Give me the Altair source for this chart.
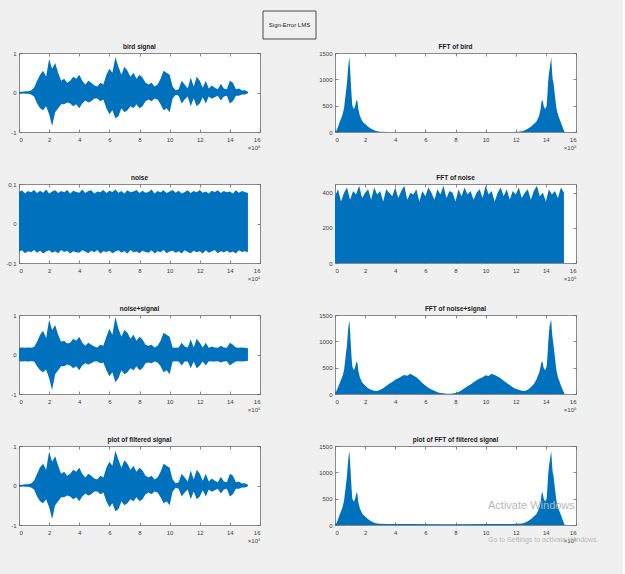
import altair as alt
import pandas as pd

BLUE = "#0072BD"
FONT = "Liberation Sans"

# ---------------- data (x in units of 10^5 samples) ----------------
sig_x = [round(0.2 * i, 1) for i in range(77)]

bird_hi = [0.02, 0.02, 0.03, 0.03, 0.05, 0.12, 0.30, 0.45, 0.55, 0.40,
           0.85, 0.60, 0.75, 0.50, 0.30, 0.35, 0.25, 0.30, 0.40, 0.35,
           0.45, 0.30, 0.20, 0.30, 0.25, 0.18, 0.15, 0.25, 0.20, 0.45,
           0.60, 0.50, 0.90, 0.65, 0.45, 0.65, 0.55, 0.40, 0.50, 0.35,
           0.45, 0.38, 0.25, 0.20, 0.25, 0.15, 0.20, 0.35, 0.55, 0.50,
           0.45, 0.15, 0.06, 0.08, 0.30, 0.20, 0.10, 0.38, 0.15, 0.40,
           0.30, 0.12, 0.30, 0.10, 0.18, 0.12, 0.08, 0.22, 0.10, 0.08,
           0.30, 0.25, 0.08, 0.10, 0.05, 0.06, 0.02]
bird_lo = [-0.02, -0.02, -0.03, -0.03, -0.05, -0.10, -0.28, -0.40, -0.45, -0.35,
           -0.55, -0.85, -0.50, -0.40, -0.30, -0.30, -0.25, -0.28, -0.35, -0.30,
           -0.40, -0.28, -0.20, -0.25, -0.22, -0.15, -0.15, -0.22, -0.18, -0.40,
           -0.55, -0.45, -0.65, -0.60, -0.40, -0.50, -0.45, -0.35, -0.40, -0.30,
           -0.40, -0.35, -0.22, -0.18, -0.22, -0.15, -0.18, -0.30, -0.45, -0.40,
           -0.50, -0.15, -0.06, -0.08, -0.28, -0.18, -0.10, -0.35, -0.15, -0.35,
           -0.28, -0.12, -0.28, -0.10, -0.16, -0.12, -0.08, -0.20, -0.10, -0.08,
           -0.28, -0.22, -0.08, -0.08, -0.05, -0.05, -0.02]

noise_hi = [0.080, 0.084, 0.076, 0.082, 0.079, 0.085, 0.077, 0.083, 0.078, 0.086,
            0.076, 0.081, 0.084, 0.077, 0.082, 0.079, 0.085, 0.076, 0.083, 0.080,
            0.078, 0.086, 0.077, 0.082, 0.084, 0.076, 0.081, 0.079, 0.085, 0.077,
            0.083, 0.080, 0.086, 0.078, 0.082, 0.076, 0.084, 0.079, 0.081, 0.085,
            0.077, 0.083, 0.078, 0.080, 0.086, 0.076, 0.082, 0.079, 0.084, 0.077,
            0.081, 0.085, 0.078, 0.083, 0.076, 0.080, 0.084, 0.077, 0.082, 0.079,
            0.085, 0.078, 0.081, 0.076, 0.083, 0.080, 0.084, 0.077, 0.082, 0.079,
            0.081, 0.076, 0.084, 0.078, 0.082, 0.080, 0.077]
noise_lo = [-0.072, -0.068, -0.075, -0.070, -0.073, -0.067, -0.074, -0.069, -0.076, -0.071,
            -0.068, -0.074, -0.070, -0.075, -0.067, -0.072, -0.069, -0.076, -0.070, -0.073,
            -0.074, -0.068, -0.071, -0.075, -0.069, -0.073, -0.067, -0.076, -0.070, -0.072,
            -0.069, -0.075, -0.071, -0.068, -0.074, -0.070, -0.076, -0.067, -0.073, -0.071,
            -0.075, -0.069, -0.072, -0.074, -0.068, -0.076, -0.070, -0.073, -0.067, -0.075,
            -0.071, -0.069, -0.074, -0.070, -0.076, -0.068, -0.072, -0.075, -0.069, -0.073,
            -0.070, -0.076, -0.068, -0.074, -0.071, -0.067, -0.075, -0.070, -0.073, -0.069,
            -0.074, -0.071, -0.076, -0.068, -0.072, -0.070, -0.073]

mix_hi = [0.17, 0.18, 0.17, 0.18, 0.17, 0.19, 0.32, 0.50, 0.60, 0.42,
          0.88, 0.62, 0.75, 0.50, 0.32, 0.35, 0.28, 0.30, 0.40, 0.35,
          0.45, 0.30, 0.22, 0.30, 0.25, 0.20, 0.18, 0.25, 0.22, 0.45,
          0.65, 0.50, 0.95, 0.65, 0.45, 0.62, 0.55, 0.40, 0.50, 0.35,
          0.45, 0.38, 0.25, 0.22, 0.25, 0.18, 0.22, 0.35, 0.55, 0.50,
          0.45, 0.18, 0.17, 0.18, 0.30, 0.20, 0.18, 0.38, 0.18, 0.40,
          0.30, 0.18, 0.30, 0.17, 0.20, 0.18, 0.17, 0.22, 0.18, 0.17,
          0.30, 0.25, 0.18, 0.17, 0.18, 0.17, 0.16]
mix_lo = [-0.17, -0.18, -0.17, -0.18, -0.17, -0.18, -0.30, -0.40, -0.45, -0.38,
          -0.60, -0.90, -0.50, -0.40, -0.30, -0.30, -0.25, -0.28, -0.35, -0.30,
          -0.40, -0.28, -0.22, -0.25, -0.22, -0.18, -0.18, -0.22, -0.20, -0.40,
          -0.55, -0.45, -0.70, -0.60, -0.40, -0.50, -0.45, -0.35, -0.40, -0.30,
          -0.40, -0.35, -0.22, -0.20, -0.22, -0.18, -0.20, -0.30, -0.45, -0.40,
          -0.50, -0.18, -0.17, -0.18, -0.28, -0.18, -0.18, -0.35, -0.18, -0.35,
          -0.28, -0.18, -0.28, -0.17, -0.18, -0.18, -0.17, -0.20, -0.18, -0.17,
          -0.28, -0.22, -0.18, -0.17, -0.18, -0.17, -0.16]

filt_hi = [0.02, 0.02, 0.03, 0.03, 0.05, 0.12, 0.30, 0.46, 0.55, 0.40,
           0.86, 0.60, 0.74, 0.50, 0.30, 0.35, 0.25, 0.30, 0.40, 0.35,
           0.45, 0.30, 0.20, 0.30, 0.25, 0.18, 0.15, 0.25, 0.20, 0.45,
           0.60, 0.50, 0.88, 0.65, 0.45, 0.64, 0.55, 0.40, 0.50, 0.35,
           0.45, 0.38, 0.25, 0.20, 0.25, 0.15, 0.20, 0.35, 0.55, 0.50,
           0.45, 0.15, 0.06, 0.08, 0.30, 0.20, 0.10, 0.38, 0.15, 0.40,
           0.30, 0.12, 0.30, 0.10, 0.18, 0.12, 0.08, 0.22, 0.10, 0.08,
           0.30, 0.25, 0.08, 0.10, 0.05, 0.06, 0.02]
filt_lo = [-0.02, -0.02, -0.03, -0.03, -0.05, -0.10, -0.28, -0.40, -0.45, -0.35,
           -0.55, -0.85, -0.50, -0.40, -0.30, -0.30, -0.25, -0.28, -0.35, -0.30,
           -0.40, -0.28, -0.20, -0.25, -0.22, -0.15, -0.15, -0.22, -0.18, -0.40,
           -0.55, -0.45, -0.65, -0.60, -0.40, -0.50, -0.45, -0.35, -0.40, -0.30,
           -0.40, -0.35, -0.22, -0.18, -0.22, -0.15, -0.18, -0.30, -0.45, -0.40,
           -0.50, -0.15, -0.06, -0.08, -0.28, -0.18, -0.10, -0.35, -0.15, -0.35,
           -0.28, -0.12, -0.28, -0.10, -0.16, -0.12, -0.08, -0.20, -0.10, -0.08,
           -0.28, -0.22, -0.08, -0.08, -0.05, -0.05, -0.02]

noise_fft = [380, 420, 350, 400, 430, 360, 410, 390, 440, 370,
             400, 420, 360, 430, 390, 410, 350, 420, 400, 380,
             430, 370, 410, 440, 360, 400, 390, 420, 350, 410,
             380, 430, 400, 360, 420, 390, 440, 370, 410, 400,
             350, 420, 380, 430, 390, 410, 360, 400, 420, 370,
             440, 390, 410, 350, 400, 430, 380, 420, 360, 410,
             390, 430, 370, 400, 420, 360, 410, 440, 380, 400,
             350, 420, 390, 410, 370, 430, 400]

bird_fft = [(0.0, 0), (0.1, 30), (0.2, 100), (0.3, 180), (0.4, 250), (0.5, 330),
            (0.6, 450), (0.7, 700), (0.8, 950), (0.85, 1150), (0.9, 1300), (0.95, 1430),
            (1.0, 1200), (1.05, 950), (1.1, 700), (1.15, 500), (1.25, 430), (1.35, 500),
            (1.4, 580), (1.45, 610), (1.5, 560), (1.55, 430), (1.65, 310), (1.75, 240),
            (1.85, 190), (2.0, 150), (2.2, 100), (2.4, 60), (2.6, 32), (2.8, 14),
            (3.0, 6), (3.5, 2), (11.7, 2), (12.2, 6), (12.4, 14), (12.6, 32),
            (12.8, 60), (13.0, 100), (13.2, 150), (13.35, 190), (13.45, 240), (13.55, 310),
            (13.65, 430), (13.7, 560), (13.75, 610), (13.8, 580), (13.85, 500), (13.95, 430),
            (14.05, 500), (14.1, 700), (14.15, 950), (14.2, 1100), (14.25, 1200), (14.3, 1300),
            (14.35, 1430), (14.4, 1200), (14.45, 1000), (14.5, 950), (14.6, 700), (14.7, 450),
            (14.8, 330), (14.9, 250), (15.0, 180), (15.1, 100), (15.2, 30), (15.25, 0)]

mix_fft = [(0.0, 0), (0.1, 60), (0.2, 130), (0.3, 200), (0.4, 270), (0.5, 340),
           (0.6, 450), (0.7, 700), (0.8, 950), (0.85, 1150), (0.9, 1300), (0.95, 1400),
           (1.0, 1200), (1.05, 950), (1.1, 700), (1.15, 520), (1.25, 450), (1.35, 520),
           (1.4, 590), (1.45, 620), (1.5, 570), (1.55, 440), (1.65, 320), (1.8, 220),
           (2.0, 160), (2.2, 110), (2.4, 80), (2.6, 60), (2.8, 55), (3.0, 80),
           (3.2, 110), (3.4, 150), (3.6, 195), (3.8, 230), (4.0, 270), (4.2, 300),
           (4.4, 330), (4.6, 360), (4.8, 345), (5.0, 385), (5.2, 350), (5.4, 320),
           (5.6, 265), (5.8, 210), (6.0, 160), (6.2, 120), (6.4, 85), (6.6, 60),
           (6.8, 35), (7.0, 20), (7.2, 12), (7.4, 6), (7.6, 4), (7.8, 8),
           (8.0, 20), (8.2, 40), (8.4, 70), (8.6, 110), (8.8, 145), (9.0, 180),
           (9.2, 225), (9.4, 260), (9.6, 295), (9.8, 320), (10.0, 355), (10.2, 340),
           (10.4, 385), (10.6, 360), (10.8, 330), (11.0, 300), (11.2, 250), (11.4, 210),
           (11.6, 170), (11.8, 130), (12.0, 100), (12.2, 80), (12.4, 60), (12.6, 55),
           (12.8, 80), (13.0, 130), (13.2, 190), (13.35, 260), (13.45, 330), (13.55, 400),
           (13.65, 520), (13.7, 600), (13.75, 620), (13.8, 580), (13.85, 500), (13.95, 450),
           (14.05, 520), (14.1, 700), (14.15, 950), (14.2, 1150), (14.25, 1300), (14.3, 1350),
           (14.35, 1420), (14.4, 1200), (14.45, 1050), (14.5, 950), (14.6, 700), (14.7, 450),
           (14.8, 320), (14.9, 240), (15.0, 160), (15.1, 90), (15.2, 30), (15.25, 0)]

filt_fft = [(0.0, 0), (0.1, 40), (0.2, 110), (0.3, 190), (0.4, 260), (0.5, 340),
            (0.6, 460), (0.7, 700), (0.8, 950), (0.85, 1150), (0.9, 1300), (0.95, 1410),
            (1.0, 1200), (1.05, 950), (1.1, 700), (1.15, 500), (1.25, 440), (1.35, 510),
            (1.4, 590), (1.45, 620), (1.5, 560), (1.55, 430), (1.65, 320), (1.75, 250),
            (1.85, 200), (2.0, 160), (2.2, 110), (2.4, 70), (2.6, 45), (2.8, 30),
            (3.0, 24), (3.5, 20), (5.0, 18), (7.6, 15), (10.0, 18), (11.7, 20),
            (12.2, 24), (12.4, 30), (12.6, 45), (12.8, 70), (13.0, 110), (13.2, 160),
            (13.35, 200), (13.45, 250), (13.55, 320), (13.65, 430), (13.7, 560), (13.75, 630),
            (13.8, 590), (13.85, 510), (13.95, 440), (14.05, 500), (14.1, 700), (14.15, 950),
            (14.2, 1100), (14.25, 1200), (14.3, 1300), (14.35, 1410), (14.4, 1200), (14.45, 1000),
            (14.5, 950), (14.6, 700), (14.7, 460), (14.8, 340), (14.9, 260), (15.0, 190),
            (15.1, 110), (15.2, 40), (15.25, 0)]

x_ticks = [0, 2, 4, 6, 8, 10, 12, 14, 16]
sig_ticks = [-1, 0, 1]
noise_ticks = [-0.1, 0, 0.1]
fft_ticks = [0, 500, 1000, 1500]
noise_fft_ticks = [0, 200, 400]

titles = ["bird signal", "FFT of bird", "noise", "FFT of noise",
          "noise+signal", "FFT of noise+signal",
          "plot of filtered signal", "plot of FFT of filtered signal"]
header_text = ["Sign-Error LMS"]
watermark = ["Activate Windows", "Go to Settings to activate Windows."]

# ---------------- helpers ----------------
W, H = 241, 79
LBL = "#404040"
TICK = "#6a6a6a"


def sig_df(hi, lo):
    return pd.DataFrame({"x": sig_x, "hi": hi, "lo": lo})


def fft_df(pairs):
    return pd.DataFrame({"x": [p[0] for p in pairs], "hi": [p[1] for p in pairs],
                         "lo": [0] * len(pairs)})


def panel(df, ydomain, yticks, title, extra=None):
    xs = alt.Scale(domain=[0, 16], nice=False, zero=False)
    ys = alt.Scale(domain=ydomain, nice=False, zero=False)
    common = dict(tickSize=3, offset=-3, domain=False, grid=False, tickColor=TICK,
                  tickWidth=0.8)
    xb = alt.Axis(orient="bottom", values=x_ticks, labelPadding=4, labelFontSize=6,
                  labelColor=LBL, labelFont=FONT, labelExpr="toString(datum.value)",
                  title="×10⁵", titleFontSize=6, titleFontWeight="normal", titleFont=FONT,
                  titleColor=LBL, titleAnchor="end", titleAlign="right", titlePadding=2,
                  **common)
    yl = alt.Axis(orient="left", values=yticks, labelPadding=3, labelFontSize=6,
                  labelColor=LBL, labelFont=FONT, labelExpr="toString(datum.value)",
                  title=None, **common)
    xt = alt.Axis(orient="top", values=x_ticks, labels=False, title=None, **common)
    yr = alt.Axis(orient="right", values=yticks, labels=False, title=None, **common)
    base = alt.Chart(df)
    area = base.mark_area(color=BLUE, opacity=1, clip=True).encode(
        x=alt.X("x:Q", scale=xs, axis=xb),
        y=alt.Y("hi:Q", scale=ys, axis=yl),
        y2="lo:Q")
    ghost = base.mark_area(opacity=0).encode(
        x=alt.X("x:Q", scale=xs, axis=xt),
        y=alt.Y("hi:Q", scale=ys, axis=yr),
        y2="lo:Q")
    ttl = alt.Chart(pd.DataFrame({"t": [title]})).mark_text(
        font=FONT, fontSize=6.5, fontWeight="bold", color="#1a1a1a",
        align="center", baseline="bottom").encode(
        text="t:N", x=alt.value(W / 2), y=alt.value(-3))
    layers = [area, ghost, ttl] + (extra or [])
    return alt.layer(*layers).resolve_axis(x="independent", y="independent").properties(
        width=W, height=H)


# header box annotation (drawn with the first panel, above it)
hdr_df = pd.DataFrame({"label": header_text})
hdr_box = alt.Chart(hdr_df).mark_rect(fill="#f0f0f0", stroke="#4a4a4a", strokeWidth=1).encode(
    x=alt.value(244), x2=alt.value(297), y=alt.value(-42), y2=alt.value(-14))
hdr_txt = alt.Chart(hdr_df).mark_text(font=FONT, fontSize=6, color="#222222",
                                      baseline="middle", align="center").encode(
    text="label:N", x=alt.value(270.5), y=alt.value(-28))

# watermark overlay on the last panel
wm_df = pd.DataFrame({"t": watermark})
wm1 = alt.Chart(wm_df).transform_filter(alt.datum.t == watermark[0]).mark_text(
    font=FONT, fontSize=11, color="#b8b8b8", align="left", baseline="middle").encode(
    text="t:N", x=alt.value(153), y=alt.value(60))
wm2 = alt.Chart(wm_df).transform_filter(alt.datum.t == watermark[1]).mark_text(
    font=FONT, fontSize=7, color="#b8b8b8", align="left", baseline="middle").encode(
    text="t:N", x=alt.value(153), y=alt.value(94))

p1 = panel(sig_df(bird_hi, bird_lo), [-1, 1], sig_ticks, titles[0], extra=[hdr_box, hdr_txt])
p2 = panel(fft_df(bird_fft), [0, 1500], fft_ticks, titles[1])
p3 = panel(sig_df(noise_hi, noise_lo), [-0.1, 0.1], noise_ticks, titles[2])
p4 = panel(pd.DataFrame({"x": sig_x, "hi": noise_fft, "lo": [0] * len(sig_x)}),
           [0, 450], noise_fft_ticks, titles[3])
p5 = panel(sig_df(mix_hi, mix_lo), [-1, 1], sig_ticks, titles[4])
p6 = panel(fft_df(mix_fft), [0, 1500], fft_ticks, titles[5])
p7 = panel(sig_df(filt_hi, filt_lo), [-1, 1], sig_ticks, titles[6])
p8 = panel(fft_df(filt_fft), [0, 1500], fft_ticks, titles[7], extra=[wm1, wm2])

chart = alt.concat(p1, p2, p3, p4, p5, p6, p7, p8, columns=2,
                   spacing={"row": 52, "column": 75}, bounds="flush").properties(
    background="#f0f0f0",
    padding={"left": 5, "top": 10, "right": 24, "bottom": 30}
).configure_view(stroke="#8a8a8a", strokeWidth=1, fill="white")

chart.save("out.html", embed_options={"renderer": "svg", "actions": False})
